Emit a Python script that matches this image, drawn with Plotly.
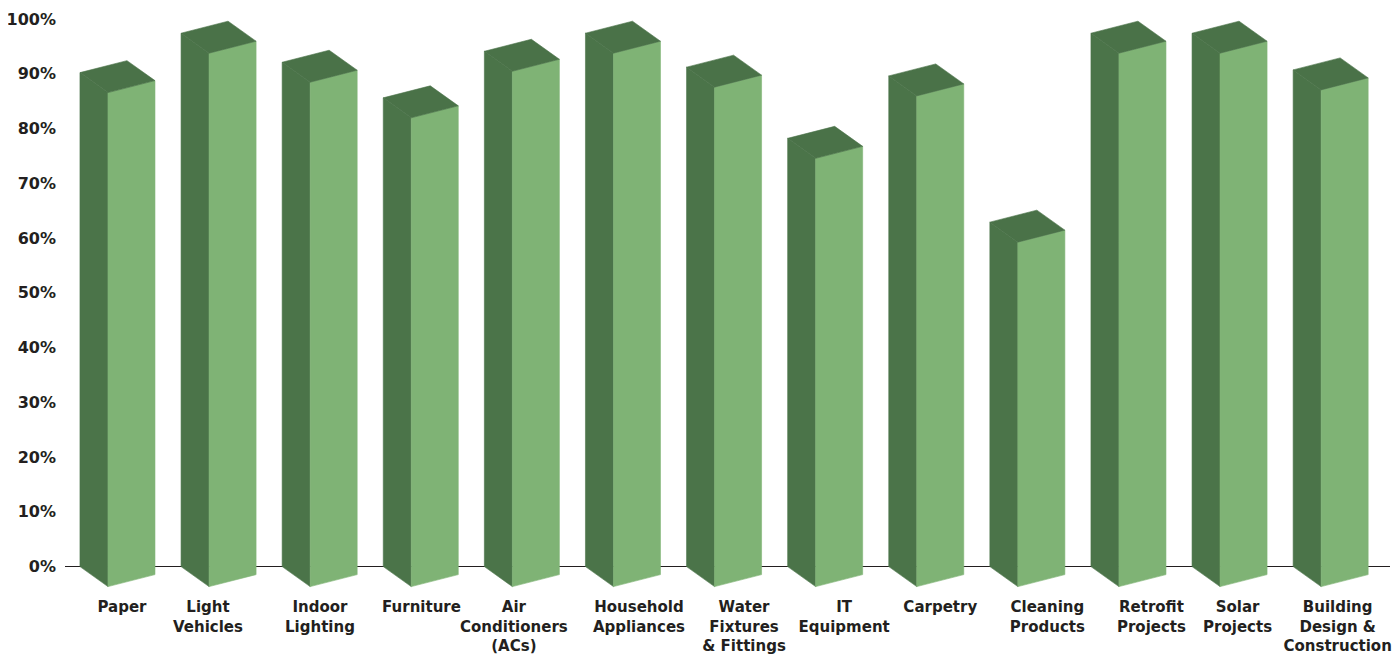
import plotly.graph_objects as go

categories = ["Paper", "Light<br>Vehicles", "Indoor<br>Lighting", "Furniture",
              "Air<br>Conditioners<br>(ACs)", "Household<br>Appliances",
              "Water<br>Fixtures<br>& Fittings", "IT<br>Equipment", "Carpetry",
              "Cleaning<br>Products", "Retrofit<br>Projects", "Solar<br>Projects",
              "Building<br>Design &<br>Construction"]
values = [90.2, 97.4, 92.1, 85.6, 94.1, 97.4, 91.2, 78.2, 89.6, 62.9, 97.4, 97.4, 90.7]
y_ticks = [0, 10, 20, 30, 40, 50, 60, 70, 80, 90, 100]
y_tick_text = [f"{v}%" for v in y_ticks]

# layout-only: horizontal nudge of each category label (pixels), as in the original
label_shift_px = [4.5, -10.6, 0.3, 0.7, -8, 16, 20, 19, 14, 20, 23, 8, 7]

DARK = "#4B7449"
LIGHT = "#7FB375"
TOP = "#4A7248"

# pseudo-3D geometry (in axis units)
SIDE_W = 0.277     # depth width of the side face (category units)
FRONT_W = 0.465    # width of front face (category units)
SIDE_DY = -3.65    # drop of side face (value units)
FRONT_DY = 2.19    # rise across front face (value units)
PX_PER_CAT = 101.1

xs_side, ys_side, xs_front, ys_front, xs_top, ys_top = [], [], [], [], [], []
for i, v in enumerate(values):
    x0 = i - (SIDE_W + FRONT_W) / 2
    x1 = x0 + SIDE_W
    x2 = x1 + FRONT_W
    # side face
    xs_side += [x0, x0, x1, x1, x0, None]
    ys_side += [0, v, v + SIDE_DY, SIDE_DY, 0, None]
    # front face
    xs_front += [x1, x1, x2, x2, x1, None]
    ys_front += [SIDE_DY, v + SIDE_DY, v + SIDE_DY + FRONT_DY, SIDE_DY + FRONT_DY, SIDE_DY, None]
    # top face
    xs_top += [x0, x1, x2, x0 + FRONT_W, x0, None]
    ys_top += [v, v + SIDE_DY, v + SIDE_DY + FRONT_DY, v + FRONT_DY, v, None]

fig = go.Figure()
for xs, ys, col in [(xs_side, ys_side, DARK), (xs_front, ys_front, LIGHT), (xs_top, ys_top, TOP)]:
    fig.add_trace(go.Scatter(x=xs, y=ys, mode="lines", fill="toself", fillcolor=col,
                             line=dict(width=0.6, color=col), hoverinfo="skip",
                             showlegend=False))

tick_positions = [i + s / PX_PER_CAT for i, s in enumerate(label_shift_px)]

font_family = "'DejaVu Sans', sans-serif"
fig.update_layout(
    width=1392, height=649,
    margin=dict(l=57, r=10, t=0, b=62.6),
    paper_bgcolor="white", plot_bgcolor="white",
    showlegend=False,
    xaxis=dict(range=[-0.519, 12.587], tickmode="array",
               tickvals=tick_positions, ticktext=categories,
               tickangle=0,
               showgrid=False, zeroline=False, showline=False, ticks="",
               ticklabelstandoff=2,
               tickfont=dict(family=font_family, size=15, color="#231F20", weight="bold"),
               automargin=False, fixedrange=True),
    yaxis=dict(range=[-5, 102], tickmode="array", tickvals=y_ticks, ticktext=y_tick_text,
               showgrid=False, zeroline=True, zerolinecolor="#231F20", zerolinewidth=1.3,
               showline=False, ticks="", ticklabelstandoff=8,
               tickfont=dict(family=font_family, size=16, color="#231F20", weight="bold"),
               automargin=False, fixedrange=True),
)

fig.write_html("out.html")
